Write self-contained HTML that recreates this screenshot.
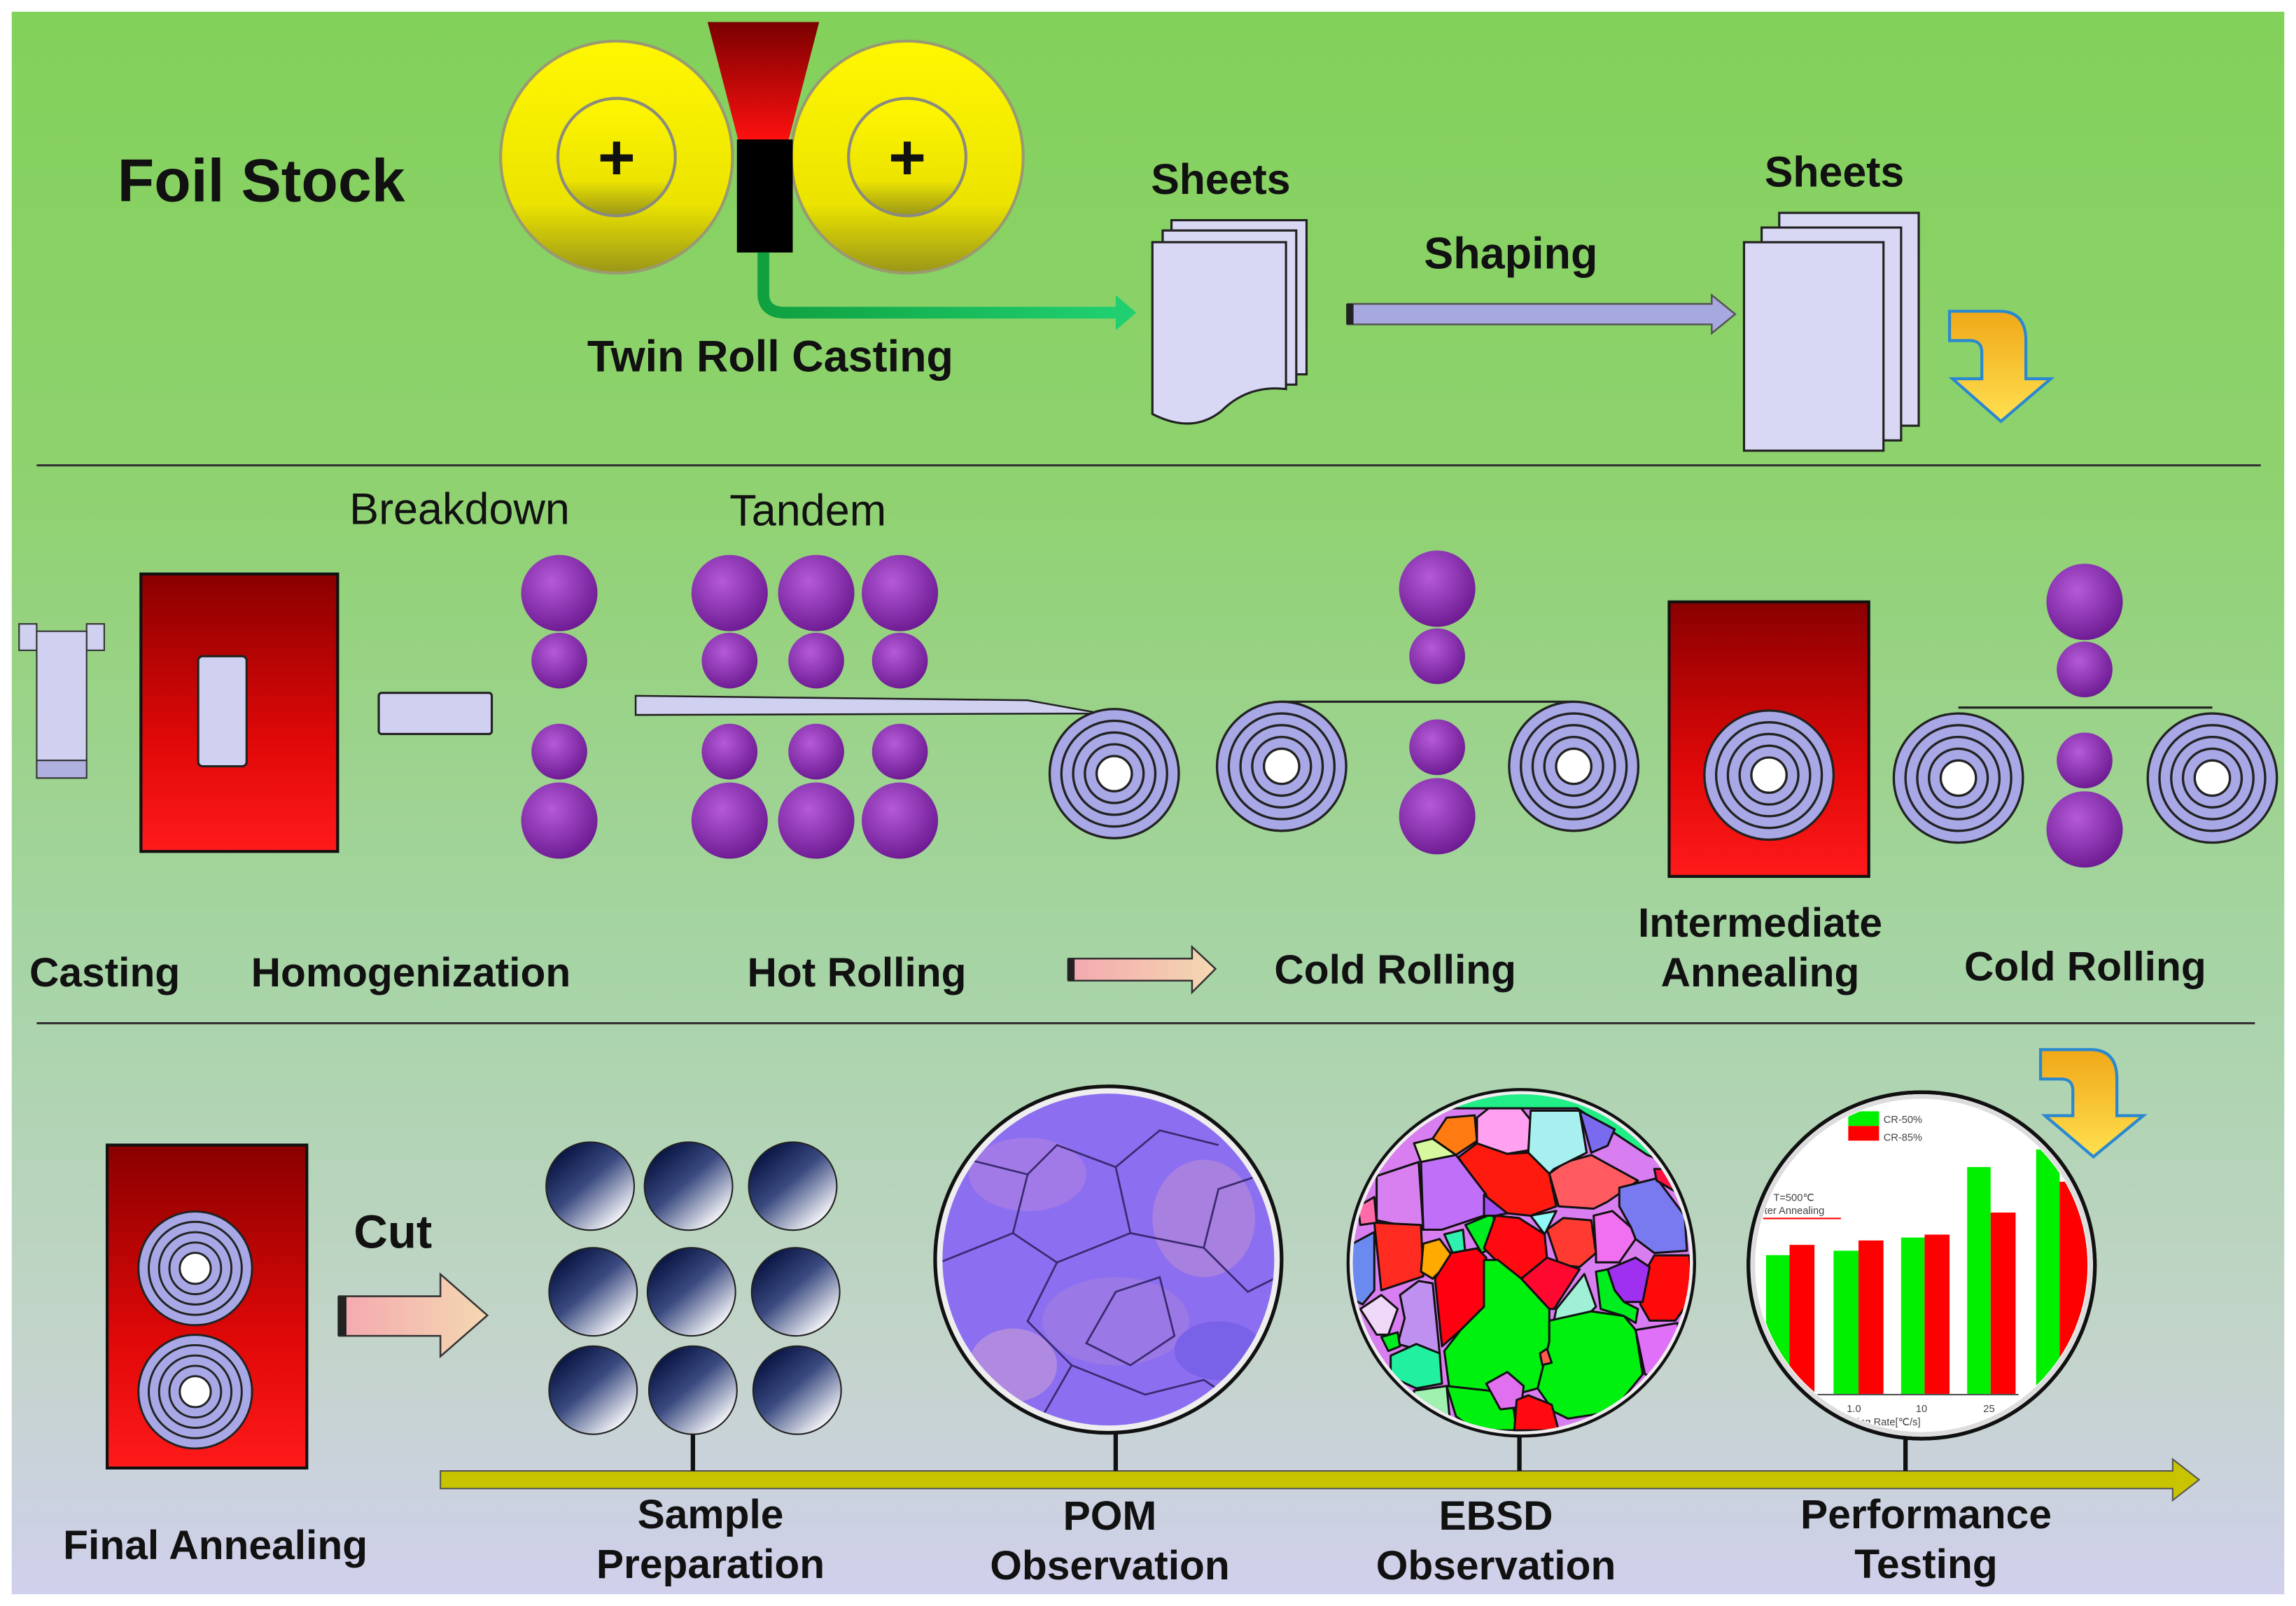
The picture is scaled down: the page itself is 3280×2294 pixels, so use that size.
<!DOCTYPE html>
<html><head><meta charset="utf-8"><style>
html,body{margin:0;padding:0;background:#fff}
svg{display:block}
text{font-family:"Liberation Sans",sans-serif;fill:#111}
.b{font-weight:bold}
</style></head><body>
<svg width="3280" height="2294" viewBox="0 0 1564 1094" preserveAspectRatio="none" xmlns="http://www.w3.org/2000/svg">
<defs>
<linearGradient id="bg" x1="0" y1="0" x2="0" y2="1">
<stop offset="0" stop-color="#82d15a"/><stop offset="0.3" stop-color="#8fd270"/><stop offset="0.62" stop-color="#a8d4a8"/><stop offset="0.85" stop-color="#c4d4cc"/><stop offset="1" stop-color="#d0d0ec"/></linearGradient>
<linearGradient id="yel" x1="0" y1="0" x2="0" y2="1"><stop offset="0" stop-color="#fff700"/><stop offset="0.7" stop-color="#ece400"/><stop offset="1" stop-color="#9a9618"/></linearGradient>
<linearGradient id="red" x1="0" y1="0" x2="0" y2="1"><stop offset="0" stop-color="#8a0000"/><stop offset="0.6" stop-color="#e00808"/><stop offset="1" stop-color="#ff1a1a"/></linearGradient>
<linearGradient id="fun" x1="0" y1="0" x2="0" y2="1"><stop offset="0" stop-color="#7a0000"/><stop offset="1" stop-color="#ff1010"/></linearGradient>
<radialGradient id="pur" cx="0.4" cy="0.35" r="0.7"><stop offset="0" stop-color="#b55ad8"/><stop offset="1" stop-color="#6a1890"/></radialGradient>
<linearGradient id="ball" x1="0.15" y1="0.1" x2="0.85" y2="0.9"><stop offset="0" stop-color="#061240"/><stop offset="0.45" stop-color="#3a4a80"/><stop offset="1" stop-color="#ffffff"/></linearGradient>
<linearGradient id="yarr" x1="0" y1="0" x2="0" y2="1"><stop offset="0" stop-color="#f0a818"/><stop offset="1" stop-color="#ffe050"/></linearGradient>
<linearGradient id="parr" x1="0" y1="0" x2="1" y2="0"><stop offset="0" stop-color="#f4a8b0"/><stop offset="1" stop-color="#f4d8b0"/></linearGradient>
<linearGradient id="garr" x1="0" y1="0" x2="1" y2="0"><stop offset="0" stop-color="#10a040"/><stop offset="1" stop-color="#20d070"/></linearGradient>
<clipPath id="cEB"><circle cx="760" cy="762" r="722"/></clipPath>
<clipPath id="cPOM"><circle cx="755" cy="858" r="113"/></clipPath>
<clipPath id="cPT"><circle cx="1309" cy="862" r="113"/></clipPath>
<g id="coil">
<circle r="44" fill="#a8a8e6" stroke="#222" stroke-width="1.6"/>
<circle r="36" fill="none" stroke="#222" stroke-width="1.6"/>
<circle r="28" fill="none" stroke="#222" stroke-width="1.6"/>
<circle r="20" fill="none" stroke="#222" stroke-width="1.6"/>
<circle r="12" fill="#fff" stroke="#222" stroke-width="1.6"/>
</g>
<g id="stand">
<circle cx="0" cy="0" r="26" fill="url(#pur)"/>
<circle cx="0" cy="46" r="19" fill="url(#pur)"/>
<circle cx="0" cy="108" r="19" fill="url(#pur)"/>
<circle cx="0" cy="155" r="26" fill="url(#pur)"/>
</g>
</defs>
<rect x="0" y="0" width="1564" height="1094" fill="#fff"/>
<rect x="8" y="8" width="1548" height="1078" fill="url(#bg)"/>

<!-- TOP -->
<text x="80" y="137" class="b" font-size="41">Foil Stock</text>
<circle cx="420" cy="107" r="79" fill="url(#yel)" stroke="#9a9a70" stroke-width="2"/>
<circle cx="420" cy="107" r="40" fill="url(#yel)" stroke="#8a8a80" stroke-width="2"/>
<circle cx="618" cy="107" r="79" fill="url(#yel)" stroke="#9a9a70" stroke-width="2"/>
<circle cx="618" cy="107" r="40" fill="url(#yel)" stroke="#8a8a80" stroke-width="2"/>
<text x="420" y="122" text-anchor="middle" class="b" font-size="44">+</text>
<text x="618" y="122" text-anchor="middle" class="b" font-size="44">+</text>
<polygon points="482,15 558,15 537,96 503,96" fill="url(#fun)"/>
<rect x="502" y="95" width="38" height="77" fill="#000"/>
<path d="M520,172 L520,200 Q520,213 535,213 L762,213" fill="none" stroke="url(#garr)" stroke-width="8"/>
<polygon points="760,201 774,213 760,225" fill="#20d070"/>
<text x="400" y="253" class="b" font-size="30">Twin Roll Casting</text>

<text x="784" y="132" class="b" font-size="29">Sheets</text>
<rect x="798" y="150" width="92" height="105" fill="#d8d8f4" stroke="#222" stroke-width="1.5"/>
<rect x="792" y="157" width="91" height="105" fill="#d8d8f4" stroke="#222" stroke-width="1.5"/>
<path d="M785,165 L876,165 L876,265 Q850,262 832,280 Q812,296 785,282 Z" fill="#d8d8f4" stroke="#222" stroke-width="1.5"/>

<text x="970" y="183" class="b" font-size="30">Shaping</text>
<polygon points="918,207 1166,207 1166,201 1182,214 1166,227 1166,221 918,221" fill="#a8a8e0" stroke="#555" stroke-width="1.2"/>
<rect x="917" y="207" width="5" height="14" fill="#222"/>

<text x="1202" y="127" class="b" font-size="29">Sheets</text>
<rect x="1212" y="145" width="95" height="145" fill="#d8d8f4" stroke="#222" stroke-width="1.5"/>
<rect x="1200" y="155" width="95" height="145" fill="#d8d8f4" stroke="#222" stroke-width="1.5"/>
<rect x="1188" y="165" width="95" height="142" fill="#d8d8f4" stroke="#222" stroke-width="1.5"/>
<path d="M1328,212 L1362,212 Q1380,212 1380,232 L1380,258 L1397,258 L1363,287 L1330,258 L1350,258 L1350,240 Q1350,232 1342,232 L1328,232 Z" fill="url(#yarr)" stroke="#2a88d0" stroke-width="2"/>

<line x1="25" y1="317" x2="1540" y2="317" stroke="#333" stroke-width="1.5"/>

<!-- MIDDLE -->
<rect x="13" y="425" width="12" height="18" fill="#d0d0f0" stroke="#333"/>
<rect x="59" y="425" width="12" height="18" fill="#d0d0f0" stroke="#333"/>
<rect x="25" y="430" width="34" height="88" fill="#d0d0f0" stroke="#333"/>
<rect x="25" y="518" width="34" height="12" fill="#b0b0e0" stroke="#333"/>
<rect x="96" y="391" width="134" height="189" fill="url(#red)" stroke="#111" stroke-width="2"/>
<rect x="135" y="447" width="33" height="75" rx="3" fill="#d0d0f0" stroke="#222" stroke-width="1.5"/>
<rect x="258" y="472" width="77" height="28" rx="2" fill="#d0d0f0" stroke="#222" stroke-width="1.5"/>
<text x="238" y="357" font-size="30">Breakdown</text>
<text x="497" y="358" font-size="30">Tandem</text>
<use href="#stand" x="381" y="404"/>
<use href="#stand" x="497" y="404"/>
<use href="#stand" x="556" y="404"/>
<use href="#stand" x="613" y="404"/>
<polygon points="433,474 700,477 750,486 433,487" fill="#d0d0f0" stroke="#222" stroke-width="1.2"/>
<use href="#coil" x="759" y="527"/>

<line x1="873" y1="478" x2="1072" y2="478" stroke="#222" stroke-width="1.5"/>
<use href="#coil" x="873" y="522"/>
<use href="#coil" x="1072" y="522"/>
<use href="#stand" x="979" y="401"/>

<rect x="1137" y="410" width="136" height="187" fill="url(#red)" stroke="#111" stroke-width="2"/>
<use href="#coil" x="1205" y="528"/>

<line x1="1334" y1="482" x2="1507" y2="482" stroke="#222" stroke-width="1.5"/>
<use href="#coil" x="1334" y="530"/>
<use href="#coil" x="1507" y="530"/>
<use href="#stand" x="1420" y="410"/>

<text x="20" y="672" class="b" font-size="28">Casting</text>
<text x="171" y="672" class="b" font-size="28">Homogenization</text>
<text x="509" y="672" class="b" font-size="28">Hot Rolling</text>
<polygon points="728,653 812,653 812,645 828,660 812,676 812,668 728,668" fill="url(#parr)" stroke="#333" stroke-width="1.2"/>
<rect x="727" y="653" width="5" height="15" fill="#222"/>
<text x="868" y="670" class="b" font-size="28">Cold Rolling</text>
<text x="1199" y="638" text-anchor="middle" class="b" font-size="28">Intermediate</text>
<text x="1199" y="672" text-anchor="middle" class="b" font-size="28">Annealing</text>
<text x="1338" y="668" class="b" font-size="28">Cold Rolling</text>

<line x1="25" y1="697" x2="1536" y2="697" stroke="#333" stroke-width="1.5"/>

<!-- BOTTOM -->
<path d="M1390,715 L1424,715 Q1442,715 1442,735 L1442,760 L1460,760 L1426,788 L1393,760 L1412,760 L1412,743 Q1412,735 1404,735 L1390,735 Z" fill="url(#yarr)" stroke="#2a88d0" stroke-width="2"/>

<rect x="73" y="780" width="136" height="220" fill="url(#red)" stroke="#111" stroke-width="2"/>
<use href="#coil" x="133" y="864" transform="translate(133 864) scale(0.88) translate(-133 -864)"/>
<use href="#coil" x="133" y="948" transform="translate(133 948) scale(0.88) translate(-133 -948)"/>
<text x="43" y="1062" class="b" font-size="28">Final Annealing</text>
<text x="241" y="850" class="b" font-size="32">Cut</text>
<polygon points="231,883 300,883 300,868 332,896 300,924 300,910 231,910" fill="url(#parr)" stroke="#333" stroke-width="1.2"/>
<rect x="230" y="883" width="6" height="27" fill="#222"/>

<polygon points="300,1002 1480,1002 1480,994 1498,1008 1480,1022 1480,1014 300,1014" fill="#c8c400" stroke="#555" stroke-width="1"/>
<line x1="472" y1="975" x2="472" y2="1002" stroke="#111" stroke-width="3"/>
<line x1="760" y1="976" x2="760" y2="1002" stroke="#111" stroke-width="3"/>
<line x1="1035" y1="978" x2="1035" y2="1002" stroke="#111" stroke-width="3"/>
<line x1="1298" y1="980" x2="1298" y2="1002" stroke="#111" stroke-width="3"/>

<g stroke="#222" stroke-width="1">
<circle cx="402" cy="808" r="30" fill="url(#ball)"/><circle cx="469" cy="808" r="30" fill="url(#ball)"/><circle cx="540" cy="808" r="30" fill="url(#ball)"/>
<circle cx="404" cy="880" r="30" fill="url(#ball)"/><circle cx="471" cy="880" r="30" fill="url(#ball)"/><circle cx="542" cy="880" r="30" fill="url(#ball)"/>
<circle cx="404" cy="947" r="30" fill="url(#ball)"/><circle cx="472" cy="947" r="30" fill="url(#ball)"/><circle cx="543" cy="947" r="30" fill="url(#ball)"/>
</g>

<!-- POM -->
<circle cx="755" cy="858" r="118" fill="#eee" stroke="#111" stroke-width="2.5"/>
<g clip-path="url(#cPOM)">
<rect x="630" y="740" width="250" height="240" fill="#8c6ef0"/>
<ellipse cx="700" cy="800" rx="40" ry="25" fill="#a27ae8"/>
<ellipse cx="820" cy="830" rx="35" ry="40" fill="#a880e0"/>
<ellipse cx="760" cy="900" rx="50" ry="30" fill="#9a78e6"/>
<ellipse cx="690" cy="930" rx="30" ry="25" fill="#b08ae0"/>
<ellipse cx="830" cy="920" rx="30" ry="20" fill="#7a62e8"/>
<g fill="none" stroke="#3a2a70" stroke-width="1.3">
<path d="M660,790 L700,800 L720,780 L760,795 L790,770 L830,780"/>
<path d="M700,800 L690,840 L720,860 L700,900 L730,930 L710,965"/>
<path d="M760,795 L770,840 L820,850 L850,880 L870,870"/>
<path d="M720,860 L770,840"/>
<path d="M640,860 L690,840"/>
<path d="M760,880 L790,870 L800,910 L770,930 L740,915 Z"/>
<path d="M730,930 L780,950 L820,940 L850,960"/>
<path d="M820,850 L830,810 L860,800"/>
</g>
</g>

<!-- EBSD -->
<g transform="translate(915.5 739.1) scale(0.15894)">
<circle cx="760" cy="762" r="742" fill="#eee" stroke="#111" stroke-width="14"/>
<g clip-path="url(#cEB)" stroke="#111" stroke-width="9" stroke-linejoin="round">
<rect x="0" y="0" width="1560" height="1560" fill="#d87ef0"/>
<polygon points="300,0 1560,0 1560,400 1300,300 1000,100 300,100" fill="#22ee88"/>
<polygon points="490,310 570,250 700,295 790,290 880,380 910,520 800,560 700,550 600,470" fill="#ff1a10"/>
<polygon points="880,380 950,330 1060,300 1260,410 1130,500 1070,530 920,520" fill="#ff5a60"/>
<polygon points="380,230 440,140 560,130 570,240 480,300" fill="#ff7a10"/>
<polygon points="570,140 620,100 760,100 800,150 790,280 700,295 570,250" fill="#ffa0f0"/>
<polygon points="800,110 1010,110 1040,290 900,360 880,380 790,290" fill="#a8f0f0"/>
<polygon points="1010,110 1160,190 1130,260 1060,290" fill="#7a6af0"/>
<polygon points="300,250 380,230 480,300 330,330" fill="#d8f8a0"/>
<polygon points="140,390 320,330 340,620 140,580" fill="#d880f0"/>
<polygon points="330,330 480,300 610,470 600,560 420,620 340,620" fill="#c070f8"/>
<polygon points="130,590 330,600 340,820 160,880" fill="#ff2a20"/>
<polygon points="340,680 410,660 470,740 380,830 330,800" fill="#ffaa00"/>
<polygon points="430,640 510,620 520,720 470,730" fill="#30f0b0"/>
<polygon points="520,600 640,550 650,690 590,720" fill="#00ee20"/>
<polygon points="600,470 700,550 650,560 600,560" fill="#a050f0"/>
<polygon points="650,560 750,570 860,640 870,740 800,820 740,830 640,740 600,700" fill="#ff0a10"/>
<polygon points="800,560 910,540 870,620 860,640" fill="#90f8f8"/>
<polygon points="870,620 940,570 1060,580 1080,720 1010,780 920,770" fill="#ff3a30"/>
<polygon points="390,830 460,720 570,700 610,740 600,950 500,1050 420,1120" fill="#ff0010"/>
<polygon points="600,750 660,750 760,830 880,960 880,1100 830,1300 720,1330 620,1330 450,1290 430,1140 500,1050 600,950" fill="#00f010"/>
<polygon points="760,830 870,740 1010,790 900,960 880,960" fill="#ff0830"/>
<polygon points="910,960 1030,810 1080,950 1060,970 900,1010" fill="#a0f0d8"/>
<polygon points="880,1010 1060,970 1200,990 1250,1050 1280,1240 1150,1400 960,1430 900,1400 830,1300 880,1100" fill="#00f010"/>
<polygon points="1070,560 1150,540 1230,610 1250,660 1180,760 1080,760 1080,720" fill="#f070f0"/>
<polygon points="1180,440 1340,400 1460,560 1470,710 1330,720 1250,660 1230,610 1180,520" fill="#7a7af0"/>
<polygon points="1330,730 1480,730 1500,900 1420,1010 1310,1010 1270,940 1290,800" fill="#ff0a0a"/>
<polygon points="1130,790 1250,740 1310,780 1280,930 1200,930 1160,880" fill="#a030f0"/>
<polygon points="1080,800 1130,790 1160,880 1200,930 1260,960 1250,1020 1200,990 1100,960" fill="#00ee20"/>
<polygon points="1250,1050 1430,1020 1440,1120 1330,1250 1290,1240" fill="#e070f8"/>
<polygon points="1330,360 1400,360 1460,480 1340,410" fill="#ff1040"/>
<polygon points="0,700 130,630 130,880 80,940 0,900" fill="#6a8af0"/>
<polygon points="60,520 130,480 140,590 70,600" fill="#ff6aa8"/>
<polygon points="70,960 160,900 230,960 190,1070 140,1070" fill="#f0d8f8"/>
<polygon points="240,900 320,840 380,850 410,1150 340,1140 230,1110 260,1000" fill="#c090f0"/>
<polygon points="160,1080 230,1060 240,1120 190,1140" fill="#00ee20"/>
<polygon points="200,1160 310,1110 410,1150 420,1280 310,1300 200,1250" fill="#20f0a0"/>
<polygon points="300,1310 440,1290 460,1500 300,1500" fill="#a0f0b0"/>
<polygon points="440,1290 620,1310 720,1340 740,1480 560,1480 480,1420" fill="#00f010"/>
<polygon points="610,1280 700,1230 770,1290 760,1380 670,1390" fill="#e070f0"/>
<polygon points="740,1350 790,1330 890,1370 920,1480 730,1480" fill="#ff0a10"/>
<polygon points="840,1150 870,1130 890,1190 850,1200" fill="#ff5a50"/>
</g>
<circle cx="760" cy="762" r="732" fill="none" stroke="#eee" stroke-width="18"/>
<circle cx="760" cy="762" r="742" fill="none" stroke="#111" stroke-width="12"/>
</g>

<!-- Performance chart -->
<circle cx="1309" cy="862" r="118" fill="#fff" stroke="#111" stroke-width="2.5"/>
<g clip-path="url(#cPT)">
<rect x="1190" y="740" width="240" height="240" fill="#fff"/>
<rect x="1203" y="855" width="16" height="100" fill="#00f000"/>
<rect x="1219" y="848" width="17" height="107" fill="#ff0000"/>
<rect x="1249" y="852" width="17" height="98" fill="#00f000"/>
<rect x="1266" y="845" width="17" height="105" fill="#ff0000"/>
<rect x="1295" y="843" width="16" height="107" fill="#00f000"/>
<rect x="1311" y="841" width="17" height="109" fill="#ff0000"/>
<rect x="1340" y="795" width="16" height="155" fill="#00f000"/>
<rect x="1356" y="826" width="17" height="124" fill="#ff0000"/>
<rect x="1387" y="783" width="16" height="170" fill="#00f000"/>
<rect x="1403" y="805" width="20" height="150" fill="#ff0000"/>
<line x1="1236" y1="950" x2="1375" y2="950" stroke="#555" stroke-width="1"/>
<rect x="1259" y="757" width="21" height="10" fill="#00f000"/>
<rect x="1259" y="767" width="21" height="10" fill="#ff0000"/>
<text x="1283" y="765" font-size="7" style="fill:#444">CR-50%</text>
<text x="1283" y="777" font-size="7" style="fill:#444">CR-85%</text>
<text x="1208" y="818" font-size="7" style="fill:#444">T=500℃</text>
<text x="1200" y="827" font-size="7" style="fill:#444">/ter Annealing</text>
<line x1="1201" y1="830" x2="1254" y2="830" stroke="#f00" stroke-width="1"/>
<text x="1258" y="962" font-size="7" style="fill:#444">1.0</text>
<text x="1305" y="962" font-size="7" style="fill:#444">10</text>
<text x="1351" y="962" font-size="7" style="fill:#444">25</text>
<text x="1265" y="971" font-size="7" style="fill:#444">ing Rate[℃/s]</text>
</g>
<circle cx="1309" cy="862" r="115" fill="none" stroke="#ddd" stroke-width="3"/>
<circle cx="1309" cy="862" r="118" fill="none" stroke="#111" stroke-width="2.5"/>

<text x="484" y="1041" text-anchor="middle" class="b" font-size="28">Sample</text>
<text x="484" y="1075" text-anchor="middle" class="b" font-size="28">Preparation</text>
<text x="756" y="1042" text-anchor="middle" class="b" font-size="28">POM</text>
<text x="756" y="1076" text-anchor="middle" class="b" font-size="28">Observation</text>
<text x="1019" y="1042" text-anchor="middle" class="b" font-size="28">EBSD</text>
<text x="1019" y="1076" text-anchor="middle" class="b" font-size="28">Observation</text>
<text x="1312" y="1041" text-anchor="middle" class="b" font-size="28">Performance</text>
<text x="1312" y="1075" text-anchor="middle" class="b" font-size="28">Testing</text>
</svg>
</body></html>
